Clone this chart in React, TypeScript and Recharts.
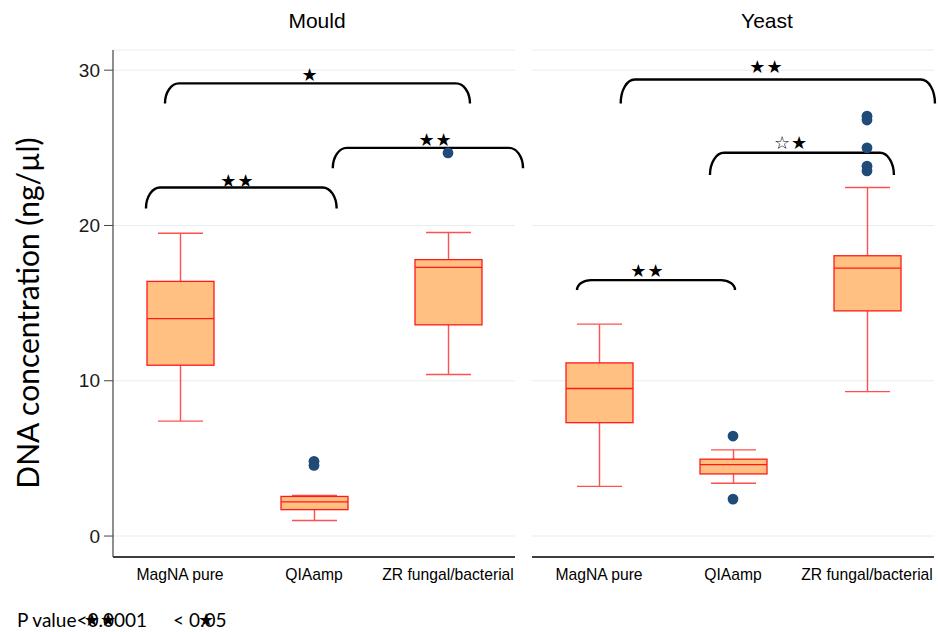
import React from 'react';
import { ComposedChart, Bar, Line, XAxis, YAxis, CartesianGrid, ReferenceArea } from 'recharts';

const categories = ['MagNA pure', 'QIAamp', 'ZR fungal/bacterial'];
const categoryPos = [0.5, 1.5, 2.5];
const yTicks = [0, 10, 20, 30];
const yDomain: [number, number] = [-1.35, 31.3];

// Mould panel
const mouldLow = [7.4, 1.0, 10.4];
const mouldQ1 = [11.0, 1.7, 13.6];
const mouldMedian = [14.0, 2.2, 17.3];
const mouldQ3 = [16.4, 2.55, 17.8];
const mouldHigh = [19.5, 2.62, 19.55];
const mouldOutliers: number[][] = [[], [4.81, 4.55], [24.67]];

// Yeast panel
const yeastLow = [3.2, 3.4, 9.3];
const yeastQ1 = [7.3, 4.0, 14.5];
const yeastMedian = [9.5, 4.6, 17.25];
const yeastQ3 = [11.15, 4.95, 18.05];
const yeastHigh = [13.65, 5.55, 22.45];
const yeastOutliers: number[][] = [[], [6.44, 2.38], [27.04, 26.79, 25.0, 23.82, 23.52]];

// significance brackets (x in category units 0..3, y in ng/µl)
const mouldBrackets = [
  { x1: 0.246, x2: 1.669, top: 22.45, end: 21.1, sx: 0.929, sy: 22.92, stars: '★★' },
  { x1: 1.64, x2: 3.06, top: 25.0, end: 23.68, sx: 2.407, sy: 25.56, stars: '★★' },
  { x1: 0.388, x2: 2.664, top: 29.15, end: 27.86, sx: 1.47, sy: 29.75, stars: '★' },
];
const yeastBrackets = [
  { x1: 0.336, x2: 1.515, top: 16.48, end: 15.84, sx: 0.862, sy: 17.13, stars: '★★' },
  { x1: 1.328, x2: 2.701, top: 24.68, end: 23.25, sx: 1.933, sy: 25.33, stars: '☆★' },
  { x1: 0.662, x2: 3.007, top: 29.4, end: 27.86, sx: 1.75, sy: 30.22, stars: '★★' },
];

const OUT_KEYS = ['o0', 'o1', 'o2', 'o3', 'o4'];

function buildRows(low: number[], q1: number[], med: number[], q3: number[], high: number[], outs: number[][]) {
  return categories.map((cat, i) => {
    const row: any = { cat, pos: categoryPos[i], low: low[i], q1: q1[i], median: med[i], q3: q3[i], high: high[i], range: [low[i], high[i]] };
    OUT_KEYS.forEach((k, j) => {
      row[k] = outs[i][j] !== undefined ? outs[i][j] : null;
    });
    return row;
  });
}

const mouldRows = buildRows(mouldLow, mouldQ1, mouldMedian, mouldQ3, mouldHigh, mouldOutliers);
const yeastRows = buildRows(yeastLow, yeastQ1, yeastMedian, yeastQ3, yeastHigh, yeastOutliers);

const BOX_FILL = '#ffc082';
const BOX_STROKE = '#ff1a1a';
const WHISKER = '#ff5050';
const DOT = '#1f4b78';

const BoxShape = (props: any) => {
  const { x, y, width, height, payload } = props;
  if (x == null || y == null) return <g />;
  const top = Math.min(y, y + height);
  const h = Math.abs(height);
  const span = payload.high - payload.low;
  const py = (v: number) => top + (h * (payload.high - v)) / span;
  const cx = x + width / 2;
  const capW = 45;
  return (
    <g>
      <line x1={cx} x2={cx} y1={py(payload.high)} y2={py(payload.q3)} stroke={WHISKER} strokeWidth={1.4} />
      <line x1={cx} x2={cx} y1={py(payload.q1)} y2={py(payload.low)} stroke={WHISKER} strokeWidth={1.4} />
      <line x1={cx - capW / 2} x2={cx + capW / 2} y1={py(payload.high)} y2={py(payload.high)} stroke={WHISKER} strokeWidth={1.4} />
      <line x1={cx - capW / 2} x2={cx + capW / 2} y1={py(payload.low)} y2={py(payload.low)} stroke={WHISKER} strokeWidth={1.4} />
      <rect x={x} y={py(payload.q3)} width={width} height={py(payload.q1) - py(payload.q3)} fill={BOX_FILL} stroke={BOX_STROKE} strokeWidth={1.3} />
      <line x1={x} x2={x + width} y1={py(payload.median)} y2={py(payload.median)} stroke={BOX_STROKE} strokeWidth={1.4} />
    </g>
  );
};

const makeDot = (key: string) => (props: any) => {
  const { cx, cy, payload, index } = props;
  if (payload == null || payload[key] == null || cy == null || isNaN(cy)) return <g key={`${key}-${index}`} />;
  return <circle key={`${key}-${index}`} cx={cx} cy={cy} r={5.4} fill={DOT} />;
};

const makeBracket = (b: any) => (props: any) => {
  const { x, y, width, height } = props;
  if (x == null || y == null) return <g />;
  const xl = x;
  const xr = x + width;
  const yt = y;
  const ye = y + height;
  const r = 14;
  const d = `M ${xl} ${ye} A ${r} ${height} 0 0 1 ${xl + r} ${yt} L ${xr - r} ${yt} A ${r} ${height} 0 0 1 ${xr} ${ye}`;
  const sx = xl + (width * (b.sx - b.x1)) / (b.x2 - b.x1);
  const pxPerUnit = height / (b.top - b.end);
  const sy = yt - (b.sy - b.top) * pxPerUnit;
  return (
    <g>
      <path d={d} fill="none" stroke="#000" strokeWidth={2.4} />
      <text x={sx} y={sy} textAnchor="middle" dominantBaseline="central" fontFamily="DejaVu Sans" fontSize={18} letterSpacing={1} fill="#000">
        {b.stars}
      </text>
    </g>
  );
};

const tickStyle = { fontSize: 15.7, fill: '#000', fontFamily: 'Liberation Sans, Arial, sans-serif' };

function Panel({ rows, brackets, showY, width, margin }: any) {
  return (
    <ComposedChart width={width} height={600} data={rows} margin={margin}>
      <CartesianGrid xAxisId="c" vertical={false} stroke="#e7eeee" strokeWidth={1} />
      <XAxis
        xAxisId="c"
        dataKey="cat"
        type="category"
        interval={0}
        tickLine={false}
        axisLine={{ stroke: '#000', strokeWidth: 1.3 }}
        tick={tickStyle}
        tickMargin={6}
        height={30}
      />
      <XAxis xAxisId="b" dataKey="pos" type="number" orientation="top" domain={[0, 3]} allowDataOverflow hide height={0} />
      <YAxis
        type="number"
        domain={yDomain}
        ticks={yTicks}
        allowDataOverflow
        hide={!showY}
        width={60}
        tickSize={9}
        tickMargin={4}
        tickLine={{ stroke: '#444' }}
        axisLine={{ stroke: '#444', strokeWidth: 1.2 }}
        tick={{ fontSize: 19, fill: '#1a1a1a', fontFamily: 'Liberation Sans, Arial, sans-serif' }}
      />
      <Bar xAxisId="c" dataKey="range" barSize={67} shape={BoxShape} isAnimationActive={false} />
      {OUT_KEYS.map((k) => (
        <Line
          key={k}
          xAxisId="c"
          dataKey={k}
          stroke="none"
          strokeWidth={0}
          dot={makeDot(k)}
          activeDot={false}
          isAnimationActive={false}
          connectNulls={false}
        />
      ))}
      {brackets.map((b: any, i: number) => (
        <ReferenceArea
          key={i}
          xAxisId="b"
          x1={b.x1}
          x2={b.x2}
          y1={b.end}
          y2={b.top}
          ifOverflow="visible"
          shape={makeBracket(b)}
        />
      ))}
    </ComposedChart>
  );
}

export default function App() {
  return (
    <div style={{ position: 'absolute', left: 0, top: 0, width: 938, height: 632, background: '#fff', overflow: 'hidden' }}>
      <div style={{ position: 'absolute', left: 0, top: 0 }}>
        <Panel rows={mouldRows} brackets={mouldBrackets} showY width={530} margin={{ top: 50, right: 15, left: 53, bottom: 13 }} />
      </div>
      <div style={{ position: 'absolute', left: 520, top: 0 }}>
        <Panel rows={yeastRows} brackets={yeastBrackets} showY={false} width={418} margin={{ top: 50, right: 4, left: 12, bottom: 13 }} />
      </div>
      <svg width={938} height={632} style={{ position: 'absolute', left: 0, top: 0, pointerEvents: 'none' }}>
        <text x={317} y={28} textAnchor="middle" fontFamily="Liberation Sans, Arial, sans-serif" fontSize={21} fill="#000">Mould</text>
        <text x={767} y={28} textAnchor="middle" fontFamily="Liberation Sans, Arial, sans-serif" fontSize={21} fill="#000">Yeast</text>
        <text transform="translate(39, 313) rotate(-90)" textAnchor="middle" fontFamily="Lato, sans-serif" fontSize={30} fill="#000">
          DNA concentration (ng/µl)
        </text>
        <text x={17} y={627} fontFamily="Lato, sans-serif" fontSize={19} fill="#000">P value&lt;0.0001</text>
        <text x={173} y={627} fontFamily="Lato, sans-serif" fontSize={19} fill="#000">&lt; 0.05</text>
        <text x={100} y={619} textAnchor="middle" dominantBaseline="central" fontFamily="DejaVu Sans" fontSize={18} letterSpacing={0} fill="#000">★★</text>
        <text x={206} y={619} textAnchor="middle" dominantBaseline="central" fontFamily="DejaVu Sans" fontSize={18} fill="#000">★</text>
      </svg>
    </div>
  );
}
